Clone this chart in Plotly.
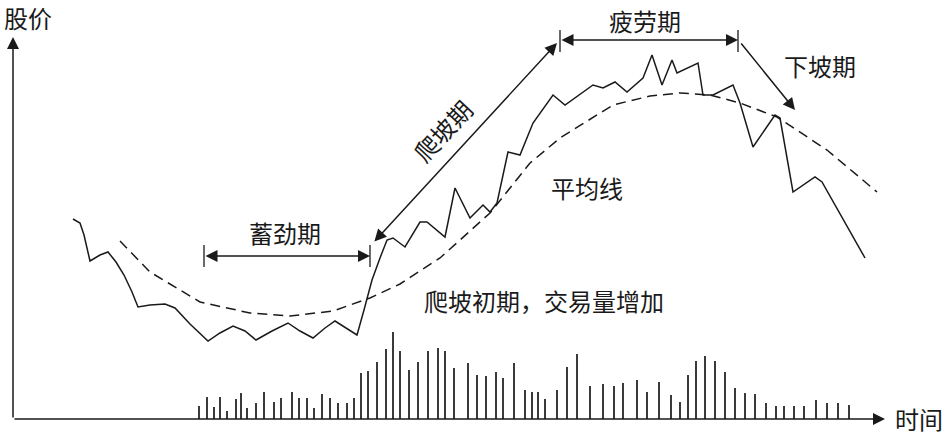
import plotly.graph_objects as go

# price curve (time, price)
price_t = [73, 80, 84, 90, 100, 108, 116, 124, 132, 138, 150, 165, 175, 190, 208, 220, 233, 245, 256,
           272, 288, 300, 313, 325, 335, 346, 357, 364, 372, 380, 387, 393, 405, 420, 427, 445, 455,
           470, 483, 490, 497, 508, 520, 533, 547, 553, 565, 583, 593, 603, 615, 627, 635, 643, 652,
           662, 672, 677, 698, 703, 713, 733, 740, 753, 775, 780, 793, 815, 822, 865]
price_v = [218, 214, 202, 176, 182, 185, 175, 162, 145, 130, 132, 133, 129, 113, 96, 104, 111, 106, 97,
           106, 114, 106, 99, 109, 116, 109, 102, 127, 157, 179, 197, 199, 190, 215, 215, 200, 249,
           219, 232, 225, 234, 285, 282, 314, 334, 342, 332, 345, 352, 349, 355, 345, 352, 359, 382,
           352, 377, 364, 374, 342, 342, 352, 334, 290, 322, 319, 245, 260, 255, 179]

# moving average (dashed)
ma_t = [120, 150, 180, 200, 250, 290, 333, 370, 400, 440, 490, 530, 560, 613, 650, 680, 710, 740, 777, 827, 877]
ma_v = [196, 165, 147, 135, 124, 121, 126, 139, 153, 179, 224, 274, 299, 332, 341, 344, 342, 334, 320, 287, 245]

# trading volume
vol_t = [199, 207, 214, 220, 227, 236, 241, 247, 256, 264, 274, 281, 292, 299, 307, 314, 322, 330, 338,
         347, 354, 361, 368, 377, 386, 393, 400, 409, 418, 428, 438, 445, 454, 468, 477, 486, 496, 503,
         514, 525, 532, 538, 545, 557, 567, 577, 590, 603, 614, 623, 637, 647, 659, 671, 680, 688, 696,
         705, 715, 725, 735, 745, 755, 766, 776, 784, 794, 804, 816, 827, 838, 849]
vol_v = [13, 22, 12, 22, 8, 20, 26, 11, 16, 27, 17, 21, 27, 21, 21, 11, 25, 21, 16,
         16, 21, 46, 48, 57, 70, 87, 68, 49, 57, 68, 71, 68, 51, 56, 44, 43, 47, 41,
         56, 29, 27, 27, 20, 29, 52, 65, 33, 35, 33, 36, 39, 27, 37, 24, 17, 44, 58,
         63, 58, 47, 31, 26, 25, 16, 13, 13, 13, 13, 19, 16, 16, 14]

BASE = 18  # level of the time axis
FONT = "Noto Sans CJK SC"
INK = "#1a1a1a"

fig = go.Figure()
fig.add_trace(go.Bar(x=vol_t, y=vol_v, base=BASE, width=1.8,
                     marker=dict(color="#3a3a3a", line=dict(width=0))))
fig.add_trace(go.Scatter(x=ma_t, y=ma_v, mode="lines",
                         line=dict(color=INK, width=1.5, dash="10px,6px")))
fig.add_trace(go.Scatter(x=price_t, y=price_v, mode="lines",
                         line=dict(color=INK, width=1.5)))


def arrow(x0, y0, x1, y1, both=False):
    fig.add_annotation(x=x1, y=y1, ax=x0, ay=y0, xref="x", yref="y", axref="x", ayref="y",
                       text="", showarrow=True, arrowhead=2, arrowsize=1.6, arrowwidth=1.5,
                       arrowcolor=INK, arrowside="end+start" if both else "end",
                       startarrowhead=2, startarrowsize=1.6, standoff=0, startstandoff=0)


def label(x, y, s, angle=0):
    fig.add_annotation(x=x, y=y, xref="x", yref="y", text=s, showarrow=False, textangle=angle,
                       font=dict(family=FONT, size=24, color=INK))


def tick(x, y0, y1):
    fig.add_shape(type="line", x0=x, x1=x, y0=y0, y1=y1, xref="x", yref="y",
                  line=dict(color=INK, width=1.3))


# axes
arrow(13, BASE, 13, 400)
arrow(13, BASE, 885, BASE)
label(28, 420, "股价")
label(919, 19, "时间")

# phases
arrow(204, 181, 370, 181, both=True)
tick(204, 170, 192)
tick(370, 170, 192)
label(285, 205, "蓄劲期")

arrow(373, 194, 557, 394, both=True)
label(442, 307, "爬坡期", angle=-47)

arrow(560, 397, 738, 397, both=True)
tick(560, 385, 407)
tick(738, 385, 407)
label(645, 417, "疲劳期")

arrow(740, 395, 795, 327)
label(820, 372, "下坡期")

label(587, 250, "平均线")
label(544, 137, "爬坡初期，交易量增加")

fig.update_layout(
    width=950, height=437,
    margin=dict(l=0, r=0, t=0, b=0),
    showlegend=False,
    plot_bgcolor="white", paper_bgcolor="white",
    xaxis=dict(range=[0, 950], visible=False, fixedrange=True),
    yaxis=dict(range=[0, 437], visible=False, fixedrange=True),
    bargap=0,
)

fig.write_html("out.html", config={"displayModeBar": False},
               post_script="document.body.style.margin='0';document.body.style.overflow='hidden';")
